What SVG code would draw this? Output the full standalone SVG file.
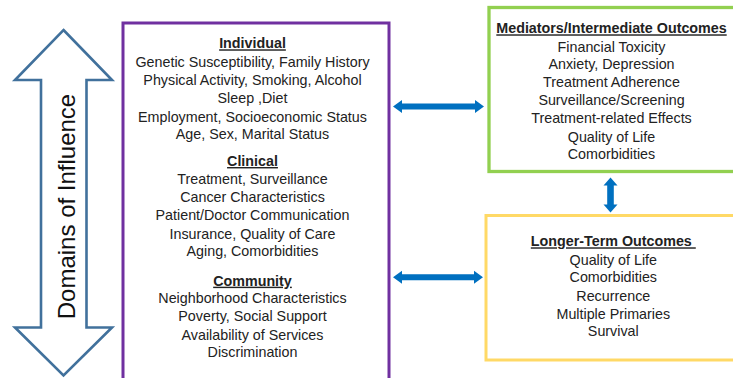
<svg xmlns="http://www.w3.org/2000/svg" width="733" height="378" viewBox="0 0 733 378">
<defs>
<style>
.t{font-family:"Liberation Sans",Arial,sans-serif;font-size:14.3px;fill:#222;text-anchor:middle}
.h{font-weight:bold;text-decoration:underline}
.box{fill:#fff}
.conn{fill:#0070C0}
</style>
</defs>
<rect width="733" height="378" fill="#fff"/>
<g id="domains">
<polygon points="63.5,30 112,80 86.5,80 86.5,327.5 112,327.5 63.5,375.5 15,327.5 41,327.5 41,80 15,80" fill="#fff" stroke="#41719C" stroke-width="2.6" stroke-linejoin="miter"/>
<text class="t" style="font-size:24px;fill:#111" transform="translate(75,206.5) rotate(-90)">Domains of Influence</text>
</g>
<g id="factors">
<rect class="box" x="123" y="23" width="266" height="380" stroke="#7030A0" stroke-width="3"/>
<text class="t h" x="252.5" y="48.3">Individual</text>
<text class="t" x="252.5" y="66.7">Genetic Susceptibility, Family History</text>
<text class="t" x="252.5" y="85">Physical Activity, Smoking, Alcohol</text>
<text class="t" x="252.5" y="103.3">Sleep ,Diet</text>
<text class="t" x="252.5" y="121.7">Employment, Socioeconomic Status</text>
<text class="t" x="252.5" y="139.3">Age, Sex, Marital Status</text>
<text class="t h" x="252.5" y="166">Clinical</text>
<text class="t" x="252.5" y="184">Treatment, Surveillance</text>
<text class="t" x="252.5" y="202.3">Cancer Characteristics</text>
<text class="t" x="252.5" y="220.3">Patient/Doctor Communication</text>
<text class="t" x="252.5" y="238.7">Insurance, Quality of Care</text>
<text class="t" x="252.5" y="256.3">Aging, Comorbidities</text>
<text class="t h" x="252.5" y="285.7">Community</text>
<text class="t" x="252.5" y="303">Neighborhood Characteristics</text>
<text class="t" x="252.5" y="321.3">Poverty, Social Support</text>
<text class="t" x="252.5" y="339.7">Availability of Services</text>
<text class="t" x="252.5" y="357.3">Discrimination</text>
</g>
<g id="mediators">
<rect class="box" x="489" y="7.5" width="260" height="164" stroke="#92D050" stroke-width="3.3"/>
<text class="t h" x="611.5" y="33.3">Mediators/Intermediate Outcomes</text>
<text class="t" x="611.5" y="51.7">Financial Toxicity</text>
<text class="t" x="611.5" y="69.3">Anxiety, Depression</text>
<text class="t" x="611.5" y="87.3">Treatment Adherence</text>
<text class="t" x="611.5" y="105">Surveillance/Screening</text>
<text class="t" x="611.5" y="123.3">Treatment-related Effects</text>
<text class="t" x="611.5" y="141.7">Quality of Life</text>
<text class="t" x="611.5" y="159.3">Comorbidities</text>
</g>
<g id="longer-term">
<rect class="box" x="486" y="215.5" width="260" height="144.5" stroke="#FFD966" stroke-width="3"/>
<text class="t h" x="613.3" y="246.3">Longer-Term Outcomes&#160;</text>
<text class="t" x="613.3" y="264.7">Quality of Life</text>
<text class="t" x="613.3" y="282.3">Comorbidities</text>
<text class="t" x="613.3" y="300.7">Recurrence</text>
<text class="t" x="613.3" y="319">Multiple Primaries</text>
<text class="t" x="613.3" y="336.3">Survival</text>
</g>
<g id="connectors">
<polygon class="conn" points="393,106.5 402,100 402,103.5 475,103.5 475,100 484,106.5 475,113 475,109.5 402,109.5 402,113"/>
<polygon class="conn" points="393,277.3 402,270.8 402,274.3 474,274.3 474,270.8 483,277.3 474,283.8 474,280.3 402,280.3 402,283.8"/>
<polygon class="conn" points="610.5,177.5 617.5,185.5 613.8,185.5 613.8,204.5 617.5,204.5 610.5,212.5 603.5,204.5 607.2,204.5 607.2,185.5 603.5,185.5"/>
</g>
</svg>
